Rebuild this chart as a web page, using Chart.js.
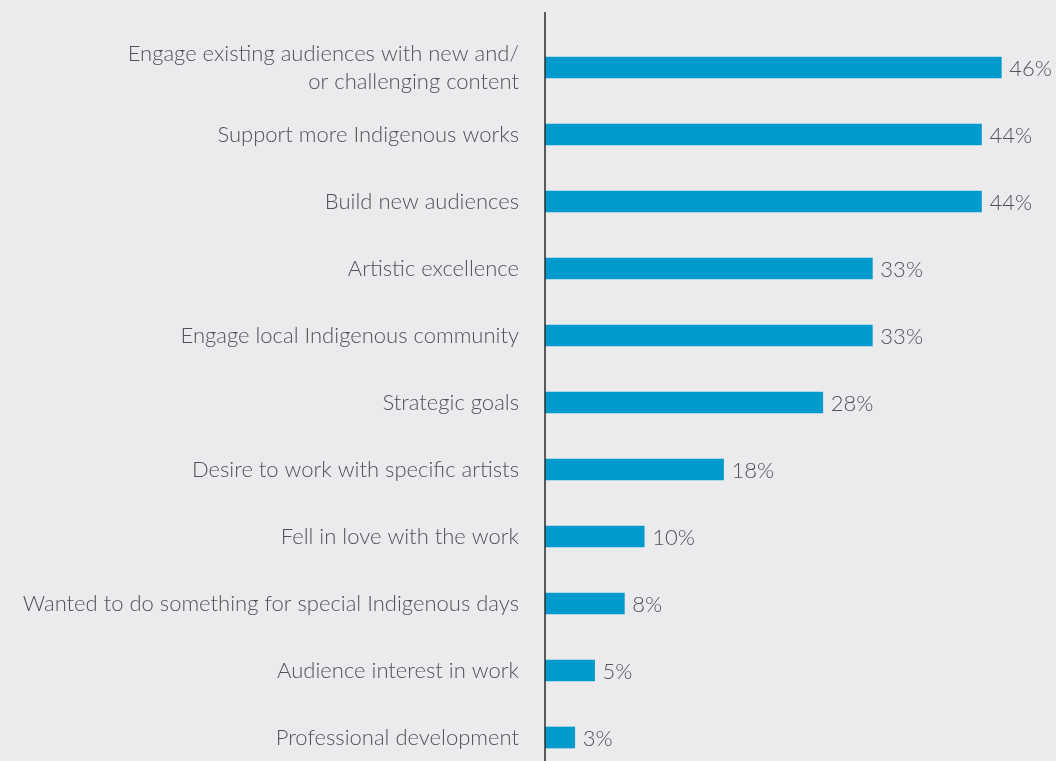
<!DOCTYPE html>
<html>
<head>
<meta charset="utf-8">
<script src="https://cdn.jsdelivr.net/npm/chart.js@4/dist/chart.umd.min.js"></script>
<style>
  html, body { margin: 0; padding: 0; background: #ebebee; overflow: hidden; }
  /* chart runs slightly past the bottom edge of the window */
  #wrap { width: 1056px; height: 771px; position: relative; }
</style>
</head>
<body>
<div id="wrap"><canvas id="reasons"></canvas></div>
<script>
// reasons for programming the work, % of respondents
var reasons = [
  ["Engage existing audiences with new and/", "or challenging content"],
  "Support more Indigenous works",
  "Build new audiences",
  "Artistic excellence",
  "Engage local Indigenous community",
  "Strategic goals",
  "Desire to work with specific artists",
  "Fell in love with the work",
  "Wanted to do something for special Indigenous days",
  "Audience interest in work",
  "Professional development"
];
var shares = [46, 44, 44, 33, 33, 28, 18, 10, 8, 5, 3];

var labelFont = { family: "Lato, 'Open Sans', sans-serif", size: 22, weight: 300, lineHeight: 1.27 };
var textColor = "#525256";

// value after the end of each bar
var valueLabels = {
  id: "valueLabels",
  afterDatasetsDraw: function(chart) {
    var ctx = chart.ctx;
    var meta = chart.getDatasetMeta(0);
    ctx.save();
    ctx.font = labelFont.weight + " " + labelFont.size + "px " + labelFont.family;
    ctx.fillStyle = textColor;
    ctx.textAlign = "left";
    ctx.textBaseline = "middle";
    meta.data.forEach(function(bar, i) {
      ctx.fillText(shares[i] + "%", bar.x + 8, bar.y + 1);
    });
    ctx.restore();
  }
};

// vertical axis line, runs a bit above the first bar
var axisLine = {
  id: "axisLine",
  afterDraw: function(chart) {
    var ctx = chart.ctx;
    var x = chart.chartArea.left;
    ctx.save();
    ctx.strokeStyle = "#2b2b2b";
    ctx.lineWidth = 1.5;
    ctx.beginPath();
    ctx.moveTo(x, 12);
    ctx.lineTo(x, chart.height);
    ctx.stroke();
    ctx.restore();
  }
};

new Chart(document.getElementById("reasons"), {
  type: "bar",
  data: {
    labels: reasons,
    datasets: [{
      data: shares,
      backgroundColor: "#009acd",
      barThickness: 21,
      borderWidth: 0
    }]
  },
  options: {
    indexAxis: "y",
    responsive: true,
    maintainAspectRatio: false,
    animation: false,
    layout: { padding: { top: 34, right: 15, bottom: 0, left: 0 } },
    plugins: { legend: { display: false }, tooltip: { enabled: false } },
    scales: {
      x: { display: false, min: 0, max: 50 },
      y: {
        grid: { display: false, drawTicks: false },
        border: { display: false },
        afterFit: function(scale) {
          scale.width = 545;
          scale.paddingTop = 0;
          scale.paddingBottom = 0;
        },
        ticks: {
          color: textColor,
          font: labelFont,
          padding: 26
        }
      }
    }
  },
  plugins: [valueLabels, axisLine]
});
</script>
</body>
</html>
